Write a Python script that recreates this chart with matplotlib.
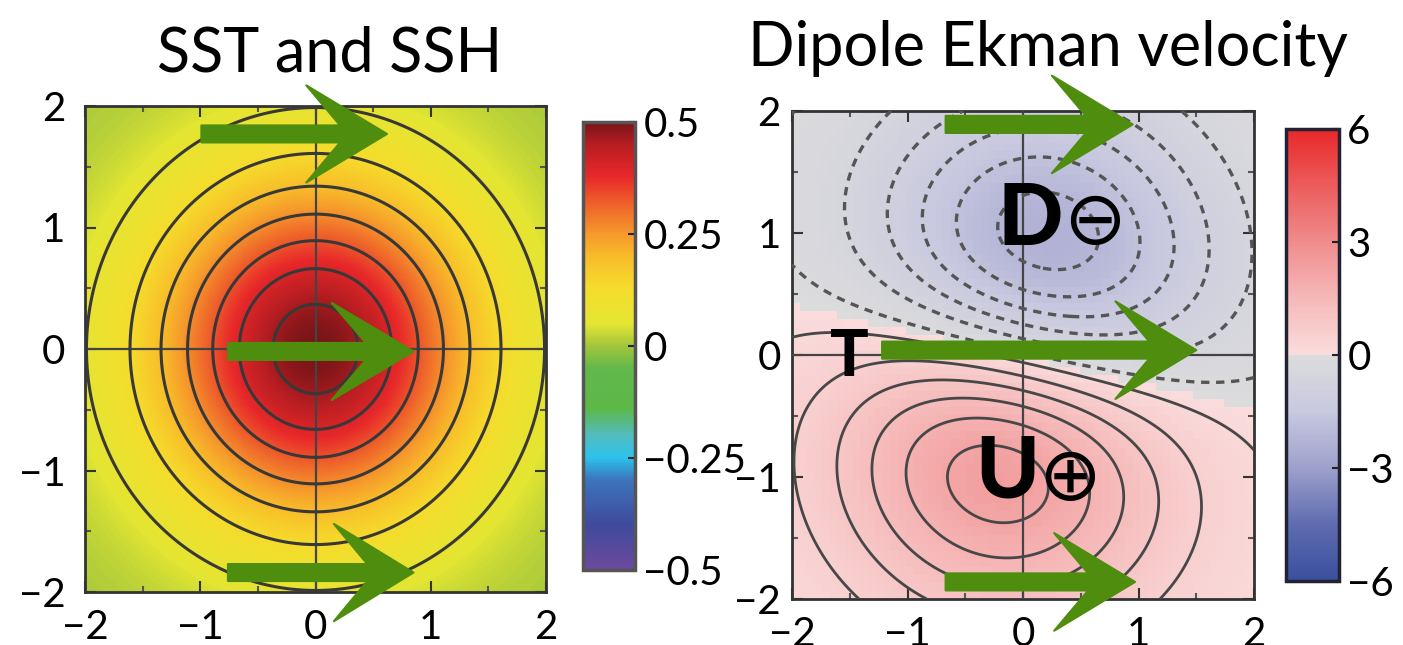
import numpy as np
import matplotlib
matplotlib.use("Agg")
import matplotlib.pyplot as plt
from matplotlib.colors import LinearSegmentedColormap, ListedColormap, Normalize
from matplotlib.patches import Polygon

plt.rcParams['font.family'] = ['Lato', 'DejaVu Sans']

# ---------------- data ----------------
# SST / SSH field: Gaussian warm eddy
sst_amplitude = 0.5
sst_radius = 1.4
sst_center = (0.0, 0.0)
sst_levels = [1/15, 2/15, 3/15, 4/15, 5/15, 6/15, 7/15]
sst_cbar_ticks = [-0.5, -0.25, 0, 0.25, 0.5]
sst_cbar_labels = ['\u22120.5', '\u22120.25', '0', '0.25', '0.5']

# Dipole Ekman velocity: rotated dipole
w_amplitude = 2.35
w_len_along = 1.48     # along zero line
w_len_axis = 1.48      # along dipole axis
w_tilt_deg = 12.0
w_center = (0.0, -0.02)
w_levels_neg = [-2.15, -1.75, -1.35, -0.95, -0.55, -0.15]
w_levels_pos = [0.15, 0.55, 0.95, 1.35, 1.75, 2.15]
w_cbar_ticks = [-6, -3, 0, 3, 6]
w_cbar_labels = ['\u22126', '\u22123', '0', '3', '6']

axis_ticks = [-2, -1, 0, 1, 2]
axis_labels = ['\u22122', '\u22121', '0', '1', '2']

# wind arrows (tail x, tip x, y, barb x)
sst_arrow_tail = [-0.99, -0.76, -0.76]
sst_arrow_tip = [0.62, 0.85, 0.85]
sst_arrow_y = [1.77, -0.02, -1.84]
sst_arrow_barb = [-0.08, 0.14, 0.16]
w_arrow_tail = [-0.67, -1.22, -0.67]
w_arrow_tip = [0.95, 1.50, 0.97]
w_arrow_y = [1.89, 0.04, -1.86]
w_arrow_barb = [0.25, 0.80, 0.27]

# ---------------- fields ----------------
g = np.linspace(-2, 2, 241)
X, Y = np.meshgrid(g, g)
R2 = (X - sst_center[0])**2 + (Y - sst_center[1])**2
SST = sst_amplitude * np.exp(-R2 / sst_radius**2)

th = np.deg2rad(w_tilt_deg)

def dipole(XX, YY):
    dx, dy = XX - w_center[0], YY - w_center[1]
    uu = dx * np.cos(th) - dy * np.sin(th)
    vv = dx * np.sin(th) + dy * np.cos(th)
    return -w_amplitude * np.sqrt(2 * np.e) * (vv / w_len_axis) * np.exp(
        -(uu**2 / w_len_along**2 + vv**2 / w_len_axis**2))

W = dipole(X, Y)
gc = np.linspace(-2, 2, 61)
Xc, Yc = np.meshgrid(gc, gc)
Wc = dipole(Xc, Yc)

# ---------------- colormaps ----------------
sst_cmap = LinearSegmentedColormap.from_list('sst', [
    (0.00, '#6c4a9e'), (0.10, '#3f4a9c'), (0.20, '#3d74bc'), (0.25, '#2cc2ec'),
    (0.30, '#52bcc0'), (0.36, '#5cb848'), (0.45, '#62b84a'), (0.50, '#a2c63c'),
    (0.55, '#e4e632'), (0.63, '#f6dc2c'), (0.70, '#f8bc2a'), (0.75, '#f69a2c'),
    (0.82, '#ee602a'), (0.88, '#e8282a'), (0.95, '#b81e22'), (1.00, '#7a1518')])

neg = LinearSegmentedColormap.from_list('neg', ['#3a4f9f', '#5f6cb0', '#9ea0cc', '#c8c8e0', '#dcdcdd'])
pos = LinearSegmentedColormap.from_list('pos', ['#fadcdc', '#f6b8b8', '#f08c8c', '#ec5c5c', '#e8282a'])
w_cmap = ListedColormap(np.vstack([neg(np.linspace(0, 1, 128)), pos(np.linspace(0, 1, 128))]))

# ---------------- figure ----------------
fig = plt.figure(figsize=(14.03, 6.45), dpi=100)
W_, H_ = 1403, 645
def rect(x0, y0, x1, y1):
    return [x0 / W_, 1 - y1 / H_, (x1 - x0) / W_, (y1 - y0) / H_]

ax1 = fig.add_axes(rect(85, 106, 546, 592))
cax1 = fig.add_axes(rect(583, 122, 635, 570))
ax2 = fig.add_axes(rect(792, 111, 1254, 599))
cax2 = fig.add_axes(rect(1286, 129, 1339, 581))

FS = 29
green = '#4e8d0e'

def arrow(ax, tail, tip, y, barb, hw=0.07, bh=0.40):
    neck = barb + 0.42 * (tip - barb)
    pts = [(tail, y + hw), (neck, y + hw), (barb, y + bh), (tip, y),
           (barb, y - bh), (neck, y - hw), (tail, y - hw)]
    p = Polygon(pts, closed=True, facecolor=green, edgecolor=green, lw=1.5,
                joinstyle='round', clip_on=False, zorder=10)
    ax.add_patch(p)

def style_axes(ax, ypad):
    ax.set_xlim(-2, 2)
    ax.set_ylim(-2, 2)
    ax.set_xticks(axis_ticks)
    ax.set_xticklabels(axis_labels)
    ax.set_yticks(axis_ticks)
    ax.set_yticklabels(axis_labels)
    ax.set_xticks([-1.5, -0.5, 0.5, 1.5], minor=True)
    ax.set_yticks([-1.5, -0.5, 0.5, 1.5], minor=True)
    ax.tick_params(which='major', direction='in', length=8, width=1.5, color='#333333',
                   top=True, right=True, labelsize=FS)
    ax.tick_params(which='minor', direction='in', length=4, width=1.5, color='#555555',
                   top=True, right=True)
    ax.tick_params(axis='x', pad=12)
    ax.tick_params(axis='y', pad=ypad)
    for s in ax.spines.values():
        s.set_color('#333333')
        s.set_linewidth(2)
    ax.axhline(0, color='#444444', lw=1.6, zorder=3)
    ax.axvline(0, color='#444444', lw=1.6, zorder=3)

# left panel
im1 = ax1.imshow(SST, extent=(-2, 2, -2, 2), origin='lower', cmap=sst_cmap,
                 norm=Normalize(-0.5, 0.5), interpolation='bilinear', aspect='auto')
ax1.contour(X, Y, SST, levels=sst_levels, colors='#383838', linewidths=2.2, zorder=4)
style_axes(ax1, 14)
for t, tp, y, b in zip(sst_arrow_tail, sst_arrow_tip, sst_arrow_y, sst_arrow_barb):
    arrow(ax1, t, tp, y, b)

cb1 = fig.colorbar(im1, cax=cax1, ticks=sst_cbar_ticks)
cb1.ax.set_yticklabels(sst_cbar_labels)
cb1.ax.tick_params(labelsize=FS, direction='in', length=5, width=1.5, color='#222222', pad=6)
cb1.outline.set_edgecolor('#555555')
cb1.outline.set_linewidth(2.5)

# right panel
im2 = ax2.imshow(Wc, extent=(-2, 2, -2, 2), origin='lower', cmap=w_cmap,
                 norm=Normalize(-6, 6), interpolation='nearest', aspect='auto')
ax2.contour(X, Y, W, levels=w_levels_neg, colors='#555555', linewidths=2.4,
            linestyles=[(0, (2.5, 2.0))], zorder=4)
ax2.contour(X, Y, W, levels=w_levels_pos, colors='#474747', linewidths=2.0,
            linestyles='solid', zorder=4)
style_axes(ax2, 8)
for t, tp, y, b in zip(w_arrow_tail, w_arrow_tip, w_arrow_y, w_arrow_barb):
    arrow(ax2, t, tp, y, b)

cb2 = fig.colorbar(im2, cax=cax2, ticks=w_cbar_ticks)
cb2.ax.set_yticklabels(w_cbar_labels)
cb2.ax.tick_params(labelsize=FS, direction='in', length=5, width=1.5, color='#222222', pad=6)
cb2.outline.set_edgecolor('#222233')
cb2.outline.set_linewidth(2.5)

# annotations
ax2.text(-1.5, -0.02, 'T', fontsize=46, fontweight='black', ha='center', va='center', zorder=11)
ax2.text(0.06, 1.1, 'D', fontsize=62, fontweight='black', ha='center', va='center', zorder=11)
ax2.text(0.62, 1.08, '\u2296', fontsize=54, family='DejaVu Sans', ha='center', va='center', zorder=11)
ax2.text(-0.14, -0.97, 'U', fontsize=62, fontweight='black', ha='center', va='center', zorder=11)
ax2.text(0.40, -1.02, '\u2295', fontsize=54, family='DejaVu Sans', ha='center', va='center', zorder=11)

# titles
fig.text(330 / W_, 1 - 72 / H_, 'SST and SSH', fontsize=44, ha='center', va='baseline')
fig.text(1048 / W_, 1 - 66 / H_, 'Dipole Ekman velocity', fontsize=44, ha='center', va='baseline')

fig.savefig('out.png', dpi=100)
